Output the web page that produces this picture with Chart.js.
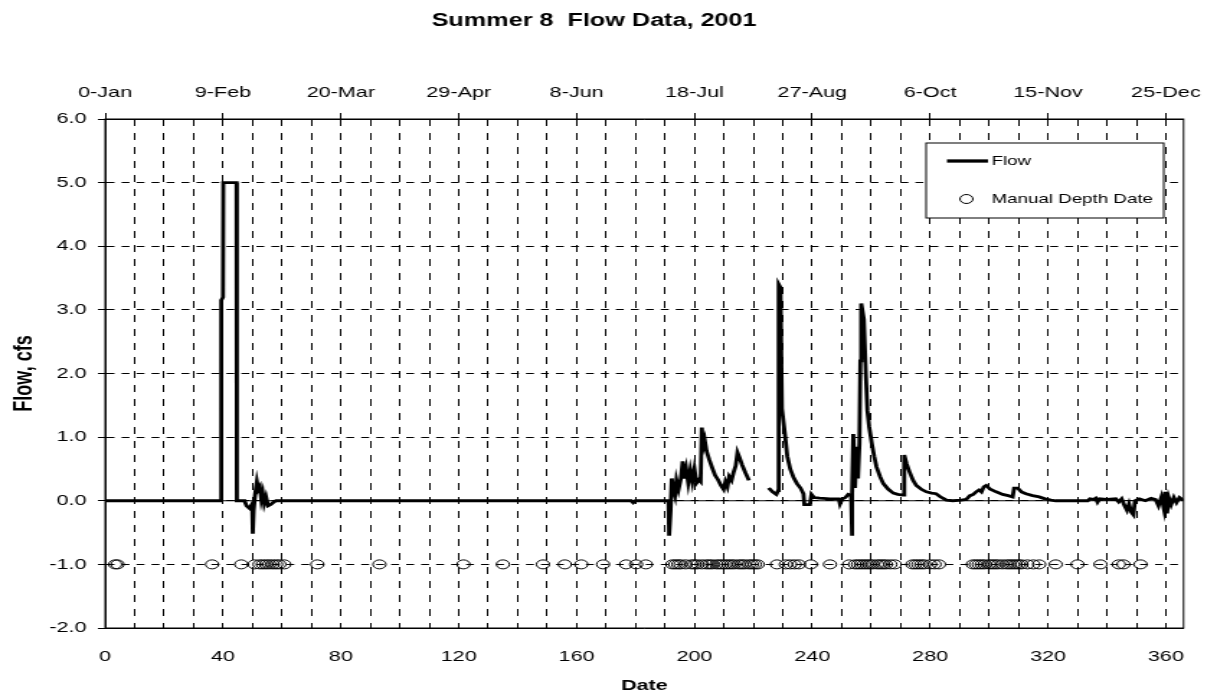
<!DOCTYPE html>
<html>
<head>
<meta charset="utf-8">
<title>Summer 8 Flow Data, 2001</title>
<script src="https://cdn.jsdelivr.net/npm/chart.js@4.4.1/dist/chart.umd.min.js"></script>
<style>
    html, body { margin: 0; padding: 0; background: #fff; }
    canvas { display: block; }
</style>
</head>
<body>
<!-- the original picture is stretched sideways, so draw narrow and stretch the canvas -->
<canvas id="flowChart" width="845" height="700" style="width:1217px;height:700px"></canvas>
<script>
// day of year (0 = 0-Jan) and flow in cfs; null = no record
const flowDays = [
    0, 39.3, 39.4, 40.0, 40.1, 44.6, 44.7,
    47.3, 48.0, 49.0, 49.9, 50.1, 50.4, 50.9, 51.5, 52.0, 52.5, 53.0, 53.5, 54.0, 54.6, 55.3, 56.2, 57.2, 58.0,
    178.5, 179.2, 180.0,
    191.2, 191.4, 191.9, 192.3, 192.8, 193.4, 193.9, 194.6, 195.4, 196.0, 196.6, 197.2, 197.9, 198.6, 199.3,
    200.0, 200.7, 201.5, 202.1, 202.5, 203.0, 203.5, 204.1, 205.0, 206.0, 207.0, 208.0, 209.0, 209.9,
    210.5, 211.2, 211.8, 212.6, 213.3, 214.0, 214.6, 215.3, 216.2, 217.3, 218.5,
    221.5,
    225.2, 226.5, 227.8, 228.4, 228.6, 229.2, 229.7, 230.7, 231.5, 232.5, 233.6, 234.8, 236.0, 237.0, 237.3,
    239.2, 239.7, 240.6, 242.5, 246.0, 249.0, 249.4, 250.2, 251.2, 252.2, 253.2, 253.4, 253.6, 253.9,
    254.5, 255.0, 255.5, 256.0, 256.3, 256.6, 257.5, 258.2, 258.7, 259.3, 260.2, 261.0, 261.8, 263.0, 264.1,
    265.8, 267.5, 269.0, 270.8, 271.2, 272.0, 273.1, 274.2, 275.3, 277.0, 278.7, 280.5, 282.0, 283.2, 284.3,
    285.5, 287.7, 290.5, 292.2, 293.5, 294.6, 295.6, 296.6, 297.4, 298.2, 299.0, 300.4, 302.4, 304.6, 306.5,
    308.0, 308.5, 309.7, 311.0, 312.5, 314.8, 317.0, 319.0, 321.0, 322.6,
    333.5, 334.2, 335.5, 336.2, 336.8, 337.5, 340.0, 343.0, 344.0, 345.0, 346.0, 346.8, 347.5, 348.3, 349.0,
    349.5, 351.0, 353.0, 355.0, 356.5, 357.5, 358.5, 359.3, 359.8, 360.4, 361.0, 361.8, 362.7, 363.6, 364.6,
    365.5, 366.0
];
const flowCfs = [
    0, 0, 3.15, 3.2, 5.0, 5.0, 0,
    0, -0.08, -0.12, -0.05, -0.52, -0.15, 0.1, 0.3, 0.18, 0.22, 0.02, 0.12, -0.04, 0.06, -0.08, -0.06, -0.02, 0,
    0, -0.03, 0,
    0, -0.55, -0.15, 0.35, 0.18, 0.08, 0.32, 0.18, 0.35, 0.62, 0.35, 0.5, 0.28, 0.48, 0.3,
    0.5, 0.28, 0.33, 0.3, 1.15, 0.85, 0.95, 0.78, 0.65, 0.52, 0.4, 0.33, 0.24, 0.18,
    0.3, 0.22, 0.38, 0.32, 0.45, 0.55, 0.76, 0.68, 0.56, 0.44, 0.32,
    null,
    0.2, 0.14, 0.1, 0.16, 3.4, 3.35, 1.45, 1.05, 0.7, 0.5, 0.37, 0.27, 0.2, 0.11, -0.06,
    -0.06, 0.1, 0.05, 0.04, 0.03, 0.03, -0.05, 0.03, 0.05, 0.1, 0.08, -0.55, 0.1, 1.05,
    0.2, 0.85, 0.35, 0.9, 2.2, 3.1, 2.85, 1.95, 1.42, 1.16, 0.9, 0.7, 0.53, 0.38, 0.27,
    0.18, 0.12, 0.1, 0.09, 0.72, 0.58, 0.44, 0.32, 0.24, 0.18, 0.14, 0.12, 0.11, 0.07, 0.04,
    0.01, 0.0, 0.01, 0.02, 0.08, 0.1, 0.14, 0.17, 0.14, 0.22, 0.24, 0.18, 0.14, 0.1, 0.08,
    0.06, 0.2, 0.2, 0.14, 0.11, 0.08, 0.06, 0.03, 0.01, 0.0,
    0.0, 0.03, 0.02, 0.04, -0.02, 0.03, 0.02, 0.03, -0.02, 0.03, -0.08, -0.15, -0.05, -0.18, -0.22,
    0.0, 0.03, 0.0, 0.04, 0.02, -0.08, 0.06, -0.12, 0.14, -0.2, 0.05, -0.06, 0.05, -0.03, 0.05,
    0.02, 0.03
];

// days when a manual depth was taken (plotted at -1.0)
const manualDepthDays = [
    3.4, 4.2, 36.3, 46.2, 50.7, 52.4, 53.5, 54.6, 55.7, 56.9, 58.0, 59.1, 60.8, 72.0, 93.1,
    121.6, 135.0, 148.6, 156.0, 161.6, 169.0, 176.8, 180.2, 183.5,
    192.5, 193.5, 194.5, 195.3, 197.0, 199.0, 200.0, 201.0, 202.5, 204.0, 205.0, 206.0, 207.5, 208.5,
    209.5, 210.5, 211.5, 212.5, 213.5, 215.0, 216.0, 217.0, 218.5, 219.5, 220.5, 221.5,
    228.0, 231.0, 232.5, 234.0, 235.5, 239.5, 246.0, 252.5,
    254.5, 255.5, 256.5, 257.5, 258.5, 259.5, 260.5, 262.0, 263.0, 264.0, 265.0, 266.5, 268.0,
    274.0, 275.0, 276.0, 277.0, 278.0, 280.0, 281.5, 283.0,
    294.5, 295.5, 296.5, 297.5, 298.5, 300.0, 301.0, 302.0, 303.0, 304.5, 306.0, 307.0, 308.0, 309.0,
    310.0, 311.0, 313.0, 315.0, 317.0, 322.6, 330.0, 337.8, 344.0, 345.6, 351.4
];
const manualDepthLevel = -1.0;

// x axis: grid every 10 days, numbers and dates every 40
const gridDays = [0, 10, 20, 30, 40, 50, 60, 70, 80, 90, 100, 110, 120, 130, 140, 150, 160, 170, 180,
    190, 200, 210, 220, 230, 240, 250, 260, 270, 280, 290, 300, 310, 320, 330, 340, 350, 360];
const labelDays = [0, 40, 80, 120, 160, 200, 240, 280, 320, 360];
const topTickLabels = ['0-Jan', '9-Feb', '20-Mar', '29-Apr', '8-Jun', '18-Jul', '27-Aug', '6-Oct', '15-Nov', '25-Dec'];

const FONT = '"Liberation Sans", Arial, sans-serif';

// zero line (category axis crossing) and the plot frame
const framePlugin = {
    id: 'frame',
    beforeDatasetsDraw(chart) {
        const { ctx, chartArea } = chart;
        const y0 = chart.scales.y.getPixelForValue(0);
        ctx.save();
        ctx.strokeStyle = '#000';
        ctx.lineWidth = 1;
        ctx.setLineDash([]);
        ctx.beginPath();
        ctx.moveTo(chartArea.left, y0);
        ctx.lineTo(chartArea.right, y0);
        ctx.stroke();
        ctx.strokeRect(chartArea.left, chartArea.top, chartArea.right - chartArea.left, chartArea.bottom - chartArea.top);
        ctx.restore();
    }
};

// boxed legend sitting inside the plot, top right
const boxLegendPlugin = {
    id: 'boxLegend',
    afterDraw(chart) {
        const ctx = chart.ctx;
        const flowSet = chart.data.datasets[0];
        const depthSet = chart.data.datasets[1];
        const box = { x: 643, y: 143, w: 165, h: 75 };
        ctx.save();
        ctx.fillStyle = '#fff';
        ctx.fillRect(box.x, box.y, box.w, box.h);
        ctx.strokeStyle = '#000';
        ctx.lineWidth = 1;
        ctx.strokeRect(box.x, box.y, box.w, box.h);

        ctx.strokeStyle = flowSet.borderColor;
        ctx.lineWidth = flowSet.borderWidth + 0.5;
        ctx.beginPath();
        ctx.moveTo(box.x + 14.5, box.y + 18);
        ctx.lineTo(box.x + 43, box.y + 18);
        ctx.stroke();

        ctx.strokeStyle = depthSet.borderColor;
        ctx.lineWidth = depthSet.borderWidth;
        ctx.beginPath();
        ctx.arc(box.x + 28, box.y + 56, depthSet.pointRadius, 0, Math.PI * 2);
        ctx.stroke();

        ctx.fillStyle = '#000';
        ctx.font = '13px ' + FONT;
        ctx.textBaseline = 'middle';
        ctx.fillText(flowSet.label, box.x + 45.5, box.y + 18);
        ctx.fillText(depthSet.label, box.x + 45.5, box.y + 56);
        ctx.restore();
    }
};

function buildFlowPoints() {
    const pts = [];
    for (let i = 0; i < flowDays.length; i++) pts.push({ x: flowDays[i], y: flowCfs[i] });
    return pts;
}

function buildDepthPoints() {
    return manualDepthDays.map(d => ({ x: d, y: manualDepthLevel }));
}

Chart.defaults.font.family = FONT;
Chart.defaults.color = '#000';

const ctx = document.getElementById('flowChart').getContext('2d');
new Chart(ctx, {
    type: 'line',
    data: {
        datasets: [
            {
                label: 'Flow',
                data: buildFlowPoints(),
                borderColor: '#000',
                borderWidth: 2.8,
                pointRadius: 0,
                tension: 0,
                spanGaps: false,
                xAxisID: 'x',
                yAxisID: 'y'
            },
            {
                label: 'Manual Depth Date',
                type: 'scatter',
                data: buildDepthPoints(),
                showLine: false,
                pointStyle: 'circle',
                pointRadius: 4.5,
                borderColor: '#000',
                borderWidth: 1,
                backgroundColor: 'rgba(0,0,0,0)',
                xAxisID: 'x',
                yAxisID: 'y'
            }
        ]
    },
    options: {
        responsive: false,
        devicePixelRatio: 1,
        animation: false,
        layout: { padding: { left: 0, right: 20, top: 0, bottom: 0 } },
        plugins: {
            legend: { display: false },
            tooltip: { enabled: false },
            title: {
                display: true,
                text: 'Summer 8  Flow Data, 2001',
                font: { size: 17.5, weight: 'bold' },
                color: '#000',
                padding: { top: 11, bottom: 0 }
            }
        },
        scales: {
            x: {
                type: 'linear',
                position: 'bottom',
                min: 0,
                max: 366,
                afterBuildTicks: (s) => { s.ticks = gridDays.map(v => ({ value: v })); },
                afterFit: (s) => { s.height = 72; },
                ticks: {
                    autoSkip: false,
                    maxRotation: 0,
                    padding: 20,
                    font: { size: 15 },
                    callback: (v) => (labelDays.includes(v) ? String(v) : '')
                },
                grid: { color: '#000', lineWidth: 1, drawTicks: false },
                border: { display: true, color: '#000', dash: [7, 7] },
                title: {
                    display: true,
                    text: 'Date',
                    font: { size: 15, weight: 'bold' },
                    padding: { top: 0, bottom: 5 }
                }
            },
            x2: {
                type: 'linear',
                position: 'top',
                min: 0,
                max: 366,
                afterBuildTicks: (s) => { s.ticks = labelDays.map(v => ({ value: v })); },
                afterFit: (s) => { s.height = 87; },
                ticks: {
                    autoSkip: false,
                    maxRotation: 0,
                    padding: 11,
                    font: { size: 15 },
                    callback: (v) => topTickLabels[labelDays.indexOf(v)]
                },
                grid: { drawOnChartArea: false, tickLength: 6, color: '#000' },
                border: { display: true, color: '#000' }
            },
            y: {
                type: 'linear',
                min: -2,
                max: 6,
                afterFit: (s) => { s.width = 73; },
                ticks: {
                    stepSize: 1,
                    padding: 8,
                    font: { size: 15 },
                    callback: (v) => v.toFixed(1)
                },
                grid: { color: '#000', lineWidth: 1, tickLength: 5 },
                border: { display: true, color: '#000', dash: [5.5, 4.9] },
                title: {
                    display: true,
                    text: 'Flow, cfs',
                    font: { size: 18, weight: 'bold' },
                    padding: { top: 6, bottom: 0 }
                }
            }
        }
    },
    plugins: [framePlugin, boxLegendPlugin]
});
</script>
</body>
</html>
